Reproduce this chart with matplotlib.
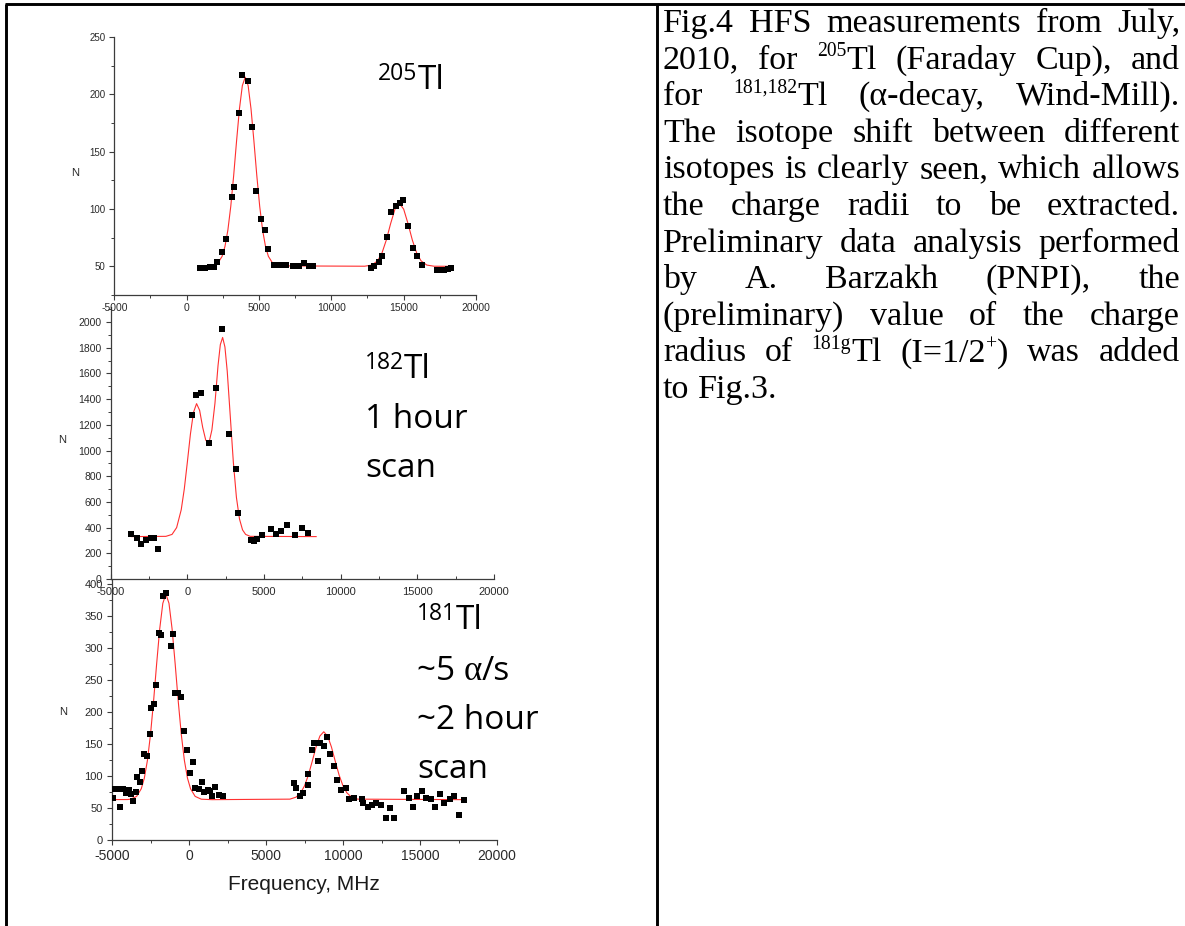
import re
import matplotlib
matplotlib.use("Agg")
import matplotlib.pyplot as plt
from matplotlib.lines import Line2D
from matplotlib.ticker import MultipleLocator

# ---- 205Tl (Faraday cup) ----
tl205_freq = [903, 1250, 1600, 1875, 2107, 2455, 2686, 3126, 3288, 3589, 3820, 4260,
              4490, 4816, 5140, 5440, 5650, 6066, 6390, 6645, 6875, 7385, 7800, 8080,
              8427, 8705, 12710, 12940, 13290, 13520, 13820, 14145, 14445, 14750, 14980,
              15325, 15650, 15900, 16300, 17290, 17570, 17755, 18035, 18265]
tl205_counts = [48.5, 48.8, 49, 49.4, 54, 62.5, 73.5, 110.5, 119.2, 183.7, 217, 211.6,
                171.2, 116, 91, 82, 65, 51.4, 51.4, 51.4, 51, 50.6, 50, 52.6,
                50, 50, 48.5, 50, 53.8, 59, 75.6, 97.4, 102.6, 105.2, 108.1,
                84.9, 66.3, 58.7, 50.9, 47, 47, 46.5, 47.7, 48.8]
tl205_fit_freq = [900, 1750, 2150, 2450, 2650, 2850, 3050, 3250, 3450, 3650, 3850, 4050,
                  4250, 4450, 4650, 4850, 5050, 5250, 5450, 5650, 5950, 6350, 12300, 12800,
                  13200, 13500, 13800, 14100, 14400, 14700, 15000, 15300, 15600, 15900,
                  16200, 16600, 17100, 18300]
tl205_fit_counts = [50, 50.4, 52.6, 58.7, 67.4, 81.6, 102.3, 129.1, 159.2, 187.3, 207.6, 215,
                    207.6, 187.3, 159.2, 129.1, 102.3, 81.6, 67.4, 58.7, 52.6, 50.4, 50.1, 51.1,
                    54.8, 61.6, 72.9, 87.3, 99.9, 105, 99.9, 87.3, 72.9, 61.6,
                    54.8, 51.1, 50.1, 50]

# ---- 182Tl (alpha decay, 1 hour scan) ----
tl182_freq = [-3698, -3264, -3004, -2700, -2396, -2157, -1897, 273, 555, 859, 1380, 1879,
              2248, 2747, 3203, 3333, 4136, 4353, 4548, 4852, 5438, 5763, 6089, 6479,
              7000, 7499, 7846]
tl182_counts = [353, 322, 270, 301, 322, 322, 231, 1276, 1432, 1445, 1056, 1489,
                1948, 1128, 859, 514, 301, 296, 309, 340, 387, 353, 374, 418,
                340, 400, 361]
tl182_fit_freq = [-3630, -1400, -1000, -700, -400, -200, 0, 200, 400, 600, 800, 1000,
                  1200, 1400, 1600, 1800, 2000, 2150, 2300, 2450, 2600, 2800, 3000,
                  3200, 3400, 3600, 3800, 4100, 8400]
tl182_fit_counts = [330, 332, 347, 400, 539, 701, 910, 1128, 1297, 1365, 1313, 1180,
                    1080, 1055, 1160, 1368, 1661, 1824, 1880, 1806, 1618, 1265, 908,
                    635, 467, 382, 347, 332, 330]

# ---- 181Tl (alpha decay, ~2 hour scan) ----
tl181_freq = [-4935, -4848, -4567, -4459, -4286, -4069, -3896, -3766, -3636, -3463,
              -3376, -3203, -3073, -2900, -2727, -2554, -2467, -2294, -2120, -1969,
              -1818, -1688, -1471, -1168, -1038, -887, -735, -518, -302, -129,
              44, 239, 413, 651, 824, 997, 1213, 1343, 1517, 1690, 1950, 2210,
              6799, 6972, 7189, 7406, 7709, 7752, 7968, 8141, 8358, 8488,
              8791, 8964, 9181, 9440, 9614, 9873, 10176, 10393, 10697, 11259,
              11303, 11650, 11866, 12125, 12472, 12818, 13078, 13337, 13944, 14269,
              14529, 14810, 15156, 15416, 15741, 16000, 16282, 16542, 16931, 17234,
              17537, 17840]
tl181_counts = [66, 79, 79, 52, 80, 73, 78, 72, 61, 75.5,
                99, 91, 107, 134, 131, 165, 206, 212.5, 242, 324,
                320, 381, 386, 303, 321, 229, 229, 224, 170, 140,
                105, 122, 81, 80, 91, 75.5, 78, 77, 68, 83, 70, 69,
                89.5, 81, 68, 74, 103, 86, 140, 151, 123, 151,
                147, 161, 135, 116, 93, 78, 81, 64, 65, 64,
                57, 51, 54, 58, 55, 35, 49.5, 35, 77, 66,
                51, 68, 77, 66, 64.5, 52, 72, 57, 63.5, 69,
                39, 62.5]
tl181_fit_freq = [-5000, -4000, -3800, -3400, -3100, -2900, -2700, -2500, -2300, -2100,
                  -1900, -1700, -1500, -1300, -1100, -900, -700, -500, -300, -100,
                  100, 400, 800, 1500, 6550, 6950, 7250, 7500, 7750, 8000, 8250, 8500,
                  8750, 9000, 9250, 9500, 9750, 10000, 10250, 10550, 10950, 17950]
tl181_fit_counts = [63.1, 63.2, 63.7, 68.1, 80, 96.7, 124.3, 164.8, 217, 275.5,
                    330, 369.6, 384, 369.6, 330, 275.5, 217, 164.8, 124.3, 96.7,
                    80, 68.1, 63.7, 63, 63.8, 66.9, 73.7, 84.5, 101.2, 122.7, 145.2, 162.4,
                    169, 162.4, 145.2, 122.7, 101.2, 84.5, 73.7, 66.9, 63.8, 63]

caption_lines = [
    "Fig.4 HFS measurements from July,",
    "2010, for ^{205}Tl (Faraday Cup), and",
    "for ^{181,182}Tl (\u03b1-decay, Wind-Mill).",
    "The isotope shift between different",
    "isotopes is clearly seen, which allows",
    "the charge radii to be extracted.",
    "Preliminary data analysis performed",
    "by A. Barzakh (PNPI), the",
    "(preliminary) value of the charge",
    "radius of ^{181g}Tl (I=1/2^{+}) was added",
    "to Fig.3.",
]

W, H = 1185, 926
plt.rcParams['font.family'] = ['Liberation Sans', 'DejaVu Sans']
plt.rcParams['axes.unicode_minus'] = False

fig = plt.figure(figsize=(W / 100, H / 100), dpi=100)
fig.patch.set_facecolor('white')
renderer = fig.canvas.get_renderer()

AXIS_COLOR = '#3c3c3c'
LABEL_COLOR = '#2a2a2a'
FIT_COLOR = '#ff3030'
ISO_FONT = 'Open Sans'
SERIF = ['Liberation Serif', 'DejaVu Serif']


def fx(px):
    return px / W


def fy(py):
    return 1 - py / H


def add_axes_px(left, top, right, bottom):
    return fig.add_axes([left / W, 1 - bottom / H, (right - left) / W, (bottom - top) / H])


def setup_panel(ax, ylim, ymaj, ymin, ysize, xsize, xdir, xpad):
    ax.set_xlim(-5000, 20000)
    ax.set_ylim(*ylim)
    ax.patch.set_alpha(0)
    for side in ('top', 'right'):
        ax.spines[side].set_visible(False)
    for side in ('left', 'bottom'):
        ax.spines[side].set_color(AXIS_COLOR)
        ax.spines[side].set_linewidth(0.9)
    ax.xaxis.set_major_locator(MultipleLocator(5000))
    ax.xaxis.set_minor_locator(MultipleLocator(2500))
    ax.yaxis.set_major_locator(MultipleLocator(ymaj))
    ax.yaxis.set_minor_locator(MultipleLocator(ymin))
    ax.tick_params(axis='y', which='major', direction='out', length=3.5, width=0.8,
                   color=AXIS_COLOR, labelsize=ysize, labelcolor=LABEL_COLOR, pad=3)
    ax.tick_params(axis='y', which='minor', direction='out', length=2, width=0.7,
                   color=AXIS_COLOR)
    ax.tick_params(axis='x', which='major', direction=xdir, length=3.5, width=0.8,
                   color=AXIS_COLOR, labelsize=xsize, labelcolor=LABEL_COLOR, pad=xpad)
    ax.tick_params(axis='x', which='minor', direction=xdir, length=2, width=0.7,
                   color=AXIS_COLOR)


def draw_panel(ax, freq, counts, fit_freq, fit_counts):
    ax.plot(fit_freq, fit_counts, color=FIT_COLOR, lw=0.8, zorder=2)
    ax.plot(freq, counts, 's', color='black', ms=3.9, mew=0, zorder=3)


def text_width(s, size, family):
    t = fig.text(0, 0, s, fontsize=size, family=family)
    w = t.get_window_extent(renderer=renderer).width
    t.remove()
    return w


def draw_runs(x, base, runs):
    # runs: (text, fontsize, family, rise in px)
    for text, size, family, rise in runs:
        t = fig.text(fx(x), fy(base - rise), text, fontsize=size, family=family,
                     va='baseline', ha='left', color='black')
        x += t.get_window_extent(renderer=renderer).width
    return x


# ---- panels (bottom first, so upper axis labels sit on top) ----
ax3 = add_axes_px(112, 580, 497, 840)
setup_panel(ax3, (0, 406), 50, 25, 8, 10, 'out', 3)
draw_panel(ax3, tl181_freq, tl181_counts, tl181_fit_freq, tl181_fit_counts)

ax2 = add_axes_px(110.7, 307, 494, 579)
setup_panel(ax2, (0, 2117), 200, 100, 7.5, 8, 'in', 6)
draw_panel(ax2, tl182_freq, tl182_counts, tl182_fit_freq, tl182_fit_counts)

ax1 = add_axes_px(114.3, 37, 476, 295)
setup_panel(ax1, (25, 250), 50, 25, 7, 7.5, 'out', 2)
draw_panel(ax1, tl205_freq, tl205_counts, tl205_fit_freq, tl205_fit_counts)

# axis titles
for x, y in [(75, 173), (62, 440), (63, 712)]:
    fig.text(fx(x), fy(y), 'N', fontsize=8, color=LABEL_COLOR, ha='center', va='center')
fig.text(fx(304), fy(884), 'Frequency, MHz', fontsize=15, color='#1a1a1a',
         ha='center', va='center')

# isotope labels
draw_runs(378, 89, [('205', 16.5, ISO_FONT, 9), ('Tl', 24, ISO_FONT, 0)])
draw_runs(365, 378, [('182', 16.5, ISO_FONT, 9), ('Tl', 24, ISO_FONT, 0)])
draw_runs(365, 428, [('1 hour', 24, ISO_FONT, 0)])
draw_runs(365, 477, [('scan', 24, ISO_FONT, 0)])
draw_runs(417, 629, [('181', 16.5, ISO_FONT, 9), ('Tl', 24, ISO_FONT, 0)])
draw_runs(417, 680, [('~5 ', 24, ISO_FONT, 0), ('\u03b1', 25, SERIF, 0),
                     ('/s', 24, ISO_FONT, 0)])
draw_runs(417, 729, [('~2 hour', 24, ISO_FONT, 0)])
draw_runs(417, 778, [('scan', 24, ISO_FONT, 0)])

# ---- justified caption in the right cell ----
TEXT_LEFT, TEXT_RIGHT = 663, 1180
FIRST_BASE, LEADING = 32, 36.6

# size the serif face so the tightest line just fills the cell
base_size = 20
tight = caption_lines[4]
natural = (sum(text_width(w, base_size, SERIF) for w in tight.split())
           + (len(tight.split()) - 1)
           * (text_width('x x', base_size, SERIF) - text_width('xx', base_size, SERIF)))
PARA_SIZE = base_size * (TEXT_RIGHT - TEXT_LEFT) / natural * 0.985
SUP_SIZE = PARA_SIZE * 0.58
SUP_RISE = PARA_SIZE * 100 / 72 * 0.36
space_w = text_width('x x', PARA_SIZE, SERIF) - text_width('xx', PARA_SIZE, SERIF)


def parse_word(word):
    runs = []
    for part in re.split(r'(\^\{[^}]*\})', word):
        if not part:
            continue
        if part.startswith('^{'):
            runs.append((part[2:-1], True))
        else:
            runs.append((part, False))
    return runs


for i, line in enumerate(caption_lines):
    words = [parse_word(w) for w in line.split()]
    widths = []
    for wd in words:
        widths.append(sum(text_width(s, SUP_SIZE if sup else PARA_SIZE, SERIF)
                          for s, sup in wd))
    if i == len(caption_lines) - 1 or len(words) < 2:
        gap = space_w
    else:
        gap = (TEXT_RIGHT - TEXT_LEFT - sum(widths)) / (len(words) - 1)
    x = TEXT_LEFT
    base = FIRST_BASE + i * LEADING
    for wd, w in zip(words, widths):
        draw_runs(x, base, [(s, SUP_SIZE if sup else PARA_SIZE, SERIF,
                             SUP_RISE if sup else 0) for s, sup in wd])
        x += w + gap

# ---- table frame ----
for (x0, y0), (x1, y1) in [((5, 4), (1185, 4)), ((6, 4), (6, 926)), ((657, 4), (657, 926))]:
    fig.add_artist(Line2D([fx(x0), fx(x1)], [fy(y0), fy(y1)], transform=fig.transFigure,
                          color='black', lw=2.1, solid_capstyle='butt'))

fig.savefig('out.png', dpi=100, facecolor='white')
